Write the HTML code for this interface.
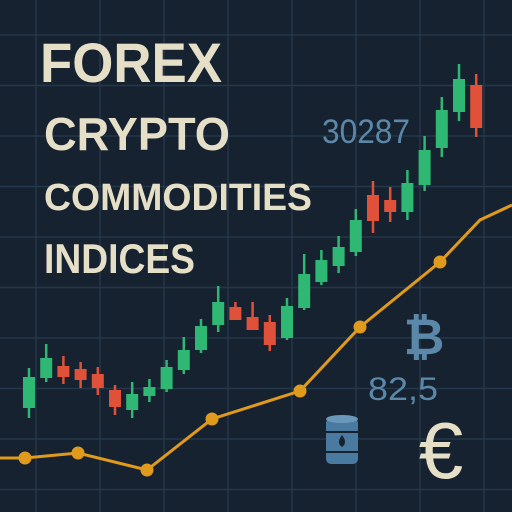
<!DOCTYPE html>
<html><head><meta charset="utf-8"><style>
html,body{margin:0;padding:0;background:#16222f;}
svg{display:block}
text{font-family:"Liberation Sans",sans-serif;}
</style></head><body>
<svg id="chart" width="512" height="512" viewBox="0 0 512 512">
<rect width="512" height="512" fill="#16222f"/>
<g id="grid"></g>
<g>
<text x="40" y="82" font-size="56" font-weight="bold" fill="#e6dfc8" textLength="182" lengthAdjust="spacingAndGlyphs">FOREX</text>
<text x="44" y="150" font-size="46" font-weight="bold" fill="#e6dfc8" textLength="186" lengthAdjust="spacingAndGlyphs">CRYPTO</text>
<text x="44" y="210" font-size="38" font-weight="bold" fill="#e6dfc8" textLength="268" lengthAdjust="spacingAndGlyphs">COMMODITIES</text>
<text x="44" y="273" font-size="42" font-weight="bold" fill="#e6dfc8" textLength="151" lengthAdjust="spacingAndGlyphs">INDICES</text>
</g>
<text x="322" y="143" font-size="34" fill="#5b88a8" textLength="88" lengthAdjust="spacingAndGlyphs">30287</text>
<g id="candles"></g>
<g id="line"></g>
<text x="424" y="354" font-size="50" font-weight="bold" fill="#5b88a8" text-anchor="middle">₿</text>
<text x="368" y="400" font-size="32" fill="#5b88a8" textLength="70" lengthAdjust="spacingAndGlyphs">82,5</text>
<g>
<rect x="326" y="418" width="32" height="46" rx="5" fill="#4a7aa0"/>
<ellipse cx="342" cy="419" rx="16" ry="4" fill="#6a98bb"/>
<rect x="326" y="431" width="32" height="2" fill="#16222f"/>
<rect x="326" y="451" width="32" height="2" fill="#16222f"/>
<path d="M342 435 q-6 8 0 12 q6 -4 0 -12z" fill="#16222f"/>
</g>
<text x="441" y="478" font-size="80" fill="#e6dfc8" text-anchor="middle">€</text>
</svg>
<script>
// candle OHLC in price units (price = 512 - pixel row)
const candleOpen  = [104,134,146,143,138,122,102,116,123,142,162,187,205,195,190,174,204,230,246,260,317,312,300,327,364,400,427];
const candleClose = [135,154,135,132,124,105,118,125,145,162,186,210,192,182,167,206,238,252,265,292,291,300,329,362,402,433,384];
const candleHigh  = [144,168,156,150,145,127,130,133,152,175,193,226,210,210,197,214,258,262,276,303,331,325,342,376,415,448,438];
const candleLow   = [94,130,128,124,117,97,94,110,120,138,159,180,192,184,161,172,202,227,239,256,279,290,292,321,355,391,375];
const linePrice   = [54,54,59,42,93,121,185,250,292,307];
const lineX       = [0,25,78,147,212,300,360,440,480,512];
const lineMarker  = [0,1,1,1,1,1,1,1,0,0];

const NS="http://www.w3.org/2000/svg";
const xScale = i => 29 + i*17.2;
const yScale = v => 512 - v;
const grid=document.getElementById('grid');
for(let x=36;x<512;x+=64){const l=document.createElementNS(NS,'line');
l.setAttribute('x1',x);l.setAttribute('x2',x);l.setAttribute('y1',0);l.setAttribute('y2',512);
l.setAttribute('stroke','#24364a');l.setAttribute('stroke-width','1.5');


grid.appendChild(l);}
for(let y=35;y<512;y+=50.5){const l=document.createElementNS(NS,'line');
l.setAttribute('x1',0);l.setAttribute('x2',512);l.setAttribute('y1',y);l.setAttribute('y2',y);
l.setAttribute('stroke','#24364a');l.setAttribute('stroke-width','1.5');


grid.appendChild(l);}
const cg=document.getElementById('candles');
candleOpen.forEach((o,i)=>{
  const c=candleClose[i],up=c>=o,col=up?'#2fb774':'#e0513a',x=xScale(i);
  const g=document.createElementNS(NS,'g');
  
  
  const w=document.createElementNS(NS,'line');
  w.setAttribute('x1',x);w.setAttribute('x2',x);w.setAttribute('y1',yScale(candleHigh[i]));w.setAttribute('y2',yScale(candleLow[i]));
  w.setAttribute('stroke',col);w.setAttribute('stroke-width','2.5');
  
  
  const b=document.createElementNS(NS,'rect');
  const top=yScale(Math.max(o,c)),bot=yScale(Math.min(o,c));
  b.setAttribute('x',x-6);b.setAttribute('width',12);b.setAttribute('y',top);b.setAttribute('height',Math.max(2,bot-top));
  b.setAttribute('fill',col);
  
  
  g.appendChild(w);g.appendChild(b);cg.appendChild(g);
});
const lg=document.getElementById('line');
const p=document.createElementNS(NS,'polyline');
p.setAttribute('points',linePrice.map((v,i)=>lineX[i]+','+yScale(v)).join(' '));
p.setAttribute('fill','none');p.setAttribute('stroke','#e09a1c');p.setAttribute('stroke-width','3');


lg.appendChild(p);
linePrice.forEach((v,i)=>{if(!lineMarker[i])return;
  const m=document.createElementNS(NS,'circle');
  m.setAttribute('cx',lineX[i]);m.setAttribute('cy',yScale(v));m.setAttribute('r',6.5);m.setAttribute('fill','#e09a1c');
  
  
  lg.appendChild(m);});
</script>
</body></html>
